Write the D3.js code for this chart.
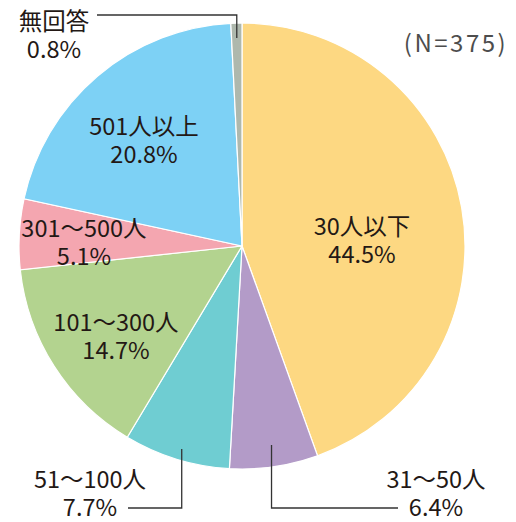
<!DOCTYPE html>
<html>
<head>
<meta charset="utf-8">
<script src="https://cdn.jsdelivr.net/npm/d3@7"></script>
<style>
  body { margin: 0; background: #fff; }
  svg text { font-family: "Noto Sans CJK JP", "Noto Sans", sans-serif; fill: #231815; }
</style>
</head>
<body>
<div id="chart"></div>
<script>
// data
var categories = ["30人以下", "31～50人", "51～100人", "101～300人", "301～500人", "501人以上", "無回答"];
var values = [44.5, 6.4, 7.7, 14.7, 5.1, 20.8, 0.8];
var colors = ["#fdd882", "#b39bc8", "#6fcdd2", "#b3d38f", "#f4a6b0", "#7dd1f5", "#aeb8ad"];
var sampleNote = "(N=375)";

var width = 516, height = 522;
var cx = 242, cy = 246, radius = 223;

var svg = d3.select("#chart").append("svg")
  .attr("width", width)
  .attr("height", height);

var pie = d3.pie().sort(null).value(function(d) { return d; });
var arc = d3.arc().innerRadius(0).outerRadius(radius);
var arcs = pie(values);

var g = svg.append("g").attr("transform", "translate(" + cx + "," + cy + ")");

g.selectAll("path")
  .data(arcs)
  .enter().append("path")
  .attr("d", arc)
  .attr("fill", function(d, i) { return colors[i]; })
  .attr("stroke", "#fff")
  .attr("stroke-width", 1.2);

// label positions (center x, baseline of first line), tweaked by hand
var labelPos = [
  [362, 235], [436, 488], [90, 488], [116, 331], [84, 237], [144, 135], [54, 30]
];

var lbl = svg.append("g");
categories.forEach(function(c, i) {
  lbl.append("text")
    .attr("text-anchor", "middle")
    .attr("font-size", 23.5)
    .attr("x", labelPos[i][0]).attr("y", labelPos[i][1])
    .text(c);
  lbl.append("text")
    .attr("text-anchor", "middle")
    .attr("font-size", 23.5)
    .attr("x", labelPos[i][0]).attr("y", labelPos[i][1] + 28)
    .text(values[i].toFixed(1) + "%");
});

// leader lines
function midPoint(i, r) {
  var a = (arcs[i].startAngle + arcs[i].endAngle) / 2;
  return [cx + Math.sin(a) * r, cy - Math.cos(a) * r];
}
var lines = svg.append("g").attr("fill", "none").attr("stroke", "#333").attr("stroke-width", 1.3);
// 無回答
var p6 = midPoint(6, 208);
lines.append("path").attr("d", "M97,15H" + p6[0] + "V" + p6[1]);
// 31～50人
var p1 = midPoint(1, 205);
lines.append("path").attr("d", "M" + p1[0] + "," + (cy + 199) + "V508H398");
// 51～100人
var p2 = midPoint(2, 205);
lines.append("path").attr("d", "M" + p2[0] + "," + (cy + 203) + "V508H128");

svg.append("text")
  .attr("x", 456).attr("y", 52)
  .attr("text-anchor", "middle")
  .attr("font-size", 24)
  .attr("letter-spacing", 2.5)
  .style("fill", "#4d4d4d")
  .text(sampleNote);
</script>
</body>
</html>
